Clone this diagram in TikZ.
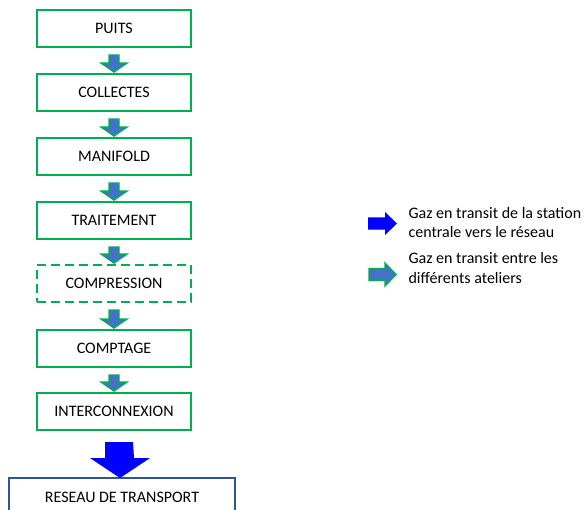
\documentclass[tikz,border=0pt]{standalone}
\usepackage{fontspec}
\setmainfont{Carlito}
\usetikzlibrary{calc}

\definecolor{stepgreen}{HTML}{00B050}
\definecolor{flowfill}{HTML}{4472C4}
\definecolor{netblue}{HTML}{0000FF}
\definecolor{netframe}{HTML}{2F5597}

\begin{document}
\begin{tikzpicture}[
    x=1bp, y=-1bp,
    stage/.style={rectangle, draw=stepgreen, line width=1.6bp, minimum width=154bp, minimum height=37bp, outer sep=0pt, inner sep=0pt, font=\fontsize{16bp}{18bp}\selectfont},
    optstage/.style={stage, dash pattern=on 9bp off 5bp},
    network/.style={rectangle, draw=netframe, line width=1.2bp, minimum width=226bp, minimum height=38bp, outer sep=0pt, inner sep=0pt, font=\fontsize{16bp}{18bp}\selectfont},
    smallflow/.style={draw=stepgreen, fill=flowfill, line width=1.4bp, line join=miter},
    bigflow/.style={fill=netblue, draw=none},
    legendtext/.style={anchor=west, align=left, font=\fontsize{16bp}{19.5bp}\selectfont}
]
\useasboundingbox (0,0) rectangle (584,510);
\clip (0,0) rectangle (584,510);

% Process chain
\node[stage] (puits) at (114,28.5) {PUITS};
\node[stage] (collectes) at (114,92.5) {COLLECTES};
\node[stage] (manifold) at (114,156.5) {MANIFOLD};
\node[stage] (traitement) at (114,220.5) {TRAITEMENT};
\node[optstage] (compression) at (114,283.5) {COMPRESSION};
\node[stage] (comptage) at (114,348.5) {COMPTAGE};
\node[stage] (interconnexion) at (114,411.5) {INTERCONNEXION};

% Transport network (cut by the page)
\node[network] (reseau) at (122,497) {RESEAU DE TRANSPORT};

% Flows between the workshops
\foreach \a/\b in {puits/collectes, collectes/manifold, manifold/traitement, traitement/compression, compression/comptage, comptage/interconnexion}
  \draw[smallflow] ($(\a.south)+(-5,8)$) -- ($(\b.north)+(-5,-11)$) -- ++(-8,0)
    -- ($(\b.north)+(0,-2)$) -- ++(13,-9) -- ++(-8,0) -- ($(\a.south)+(5,8)$) -- cycle;

% Flow to the network
\draw[bigflow] ($(interconnexion.south)+(-9,12)$) -- ($(reseau.north)+(-17,-20)$) -- ++(-15,0)
  -- ($(reseau.north)+(-2,0)$) -- ++(30,-20) -- ++(-16,0) -- ($(interconnexion.south)+(19,12)$) -- cycle;

% Legend
\coordinate (keynet) at (368,223.5);
\coordinate (keystep) at (368,274.5);
\draw[bigflow] ($(keynet)+(0,-6)$) -- ++(17,0) -- ++(0,-5.5) -- ++(12,11.5) -- ++(-12,11.5) -- ++(0,-5.5) -- ++(-17,0) -- cycle;
\draw[smallflow] ($(keystep)+(1,-6)$) -- ++(16,0) -- ++(0,-5.5) -- ++(11,11.5) -- ++(-11,11.5) -- ++(0,-5.5) -- ++(-16,0) -- cycle;
\node[legendtext] (keynettext) at (405,222.5) {Gaz en transit de la station\\centrale vers le réseau};
\node[legendtext] (keysteptext) at (405,268) {Gaz en transit entre les\\différents ateliers};

\end{tikzpicture}
\end{document}
